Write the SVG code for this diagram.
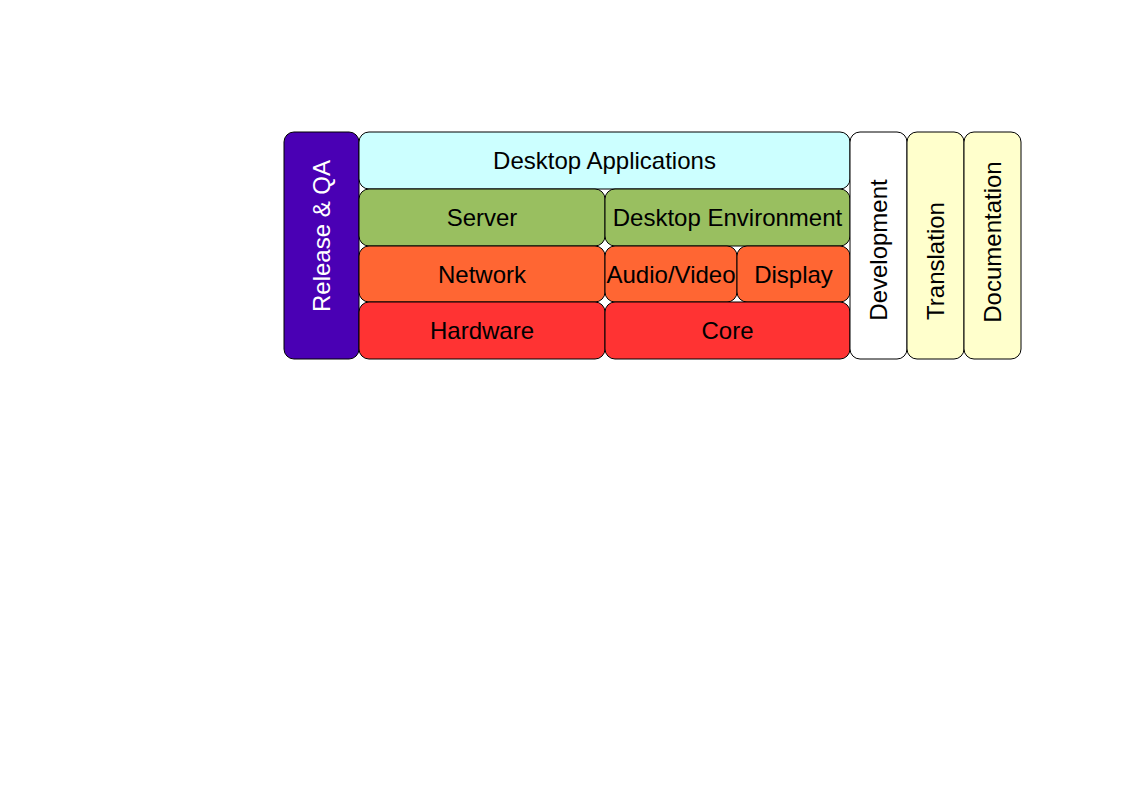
<svg xmlns="http://www.w3.org/2000/svg" width="1123" height="794" viewBox="0 0 1123 794">
<style>
rect{stroke:#000;stroke-width:1}
text{font-family:"Liberation Sans",Arial,sans-serif;font-size:24px;fill:#000;text-anchor:middle;dominant-baseline:central}
</style>
<rect x="0" y="0" width="1123" height="794" fill="#fff" style="stroke:none"/>
<g id="release"><rect x="284" y="132" width="75" height="227" rx="10" fill="#4a00b4"/><text transform="translate(321.5,236) rotate(-90)" style="fill:#fff">Release &amp; QA</text></g>
<g id="desktop-apps"><rect x="359" y="132" width="491" height="57" rx="10" fill="#ccffff"/><text x="604.5" y="160.5">Desktop Applications</text></g>
<g id="server"><rect x="359" y="189" width="246" height="57" rx="10" fill="#99bf60"/><text x="482" y="217.5">Server</text></g>
<g id="desktop-env"><rect x="605" y="189" width="245" height="57" rx="10" fill="#99bf60"/><text x="727.5" y="217.5">Desktop Environment</text></g>
<g id="network"><rect x="359" y="246" width="246" height="56" rx="10" fill="#ff6633"/><text x="482" y="274">Network</text></g>
<g id="audio-video"><rect x="605" y="246" width="132" height="56" rx="10" fill="#ff6633"/><text x="671" y="274">Audio/Video</text></g>
<g id="display"><rect x="737" y="246" width="113" height="56" rx="10" fill="#ff6633"/><text x="793.5" y="274">Display</text></g>
<g id="hardware"><rect x="359" y="302" width="246" height="57" rx="10" fill="#ff3333"/><text x="482" y="330.5">Hardware</text></g>
<g id="core"><rect x="605" y="302" width="245" height="57" rx="10" fill="#ff3333"/><text x="727.5" y="330.5">Core</text></g>
<g id="development"><rect x="850" y="132" width="57" height="227" rx="10" fill="#ffffff"/><text transform="translate(878.5,250) rotate(-90)">Development</text></g>
<g id="translation"><rect x="907" y="132" width="57" height="227" rx="10" fill="#ffffcc"/><text transform="translate(935.5,261) rotate(-90)">Translation</text></g>
<g id="documentation"><rect x="964" y="132" width="57" height="227" rx="10" fill="#ffffcc"/><text transform="translate(992.5,242) rotate(-90)">Documentation</text></g>
<g id="connectors"></g>
</svg>
